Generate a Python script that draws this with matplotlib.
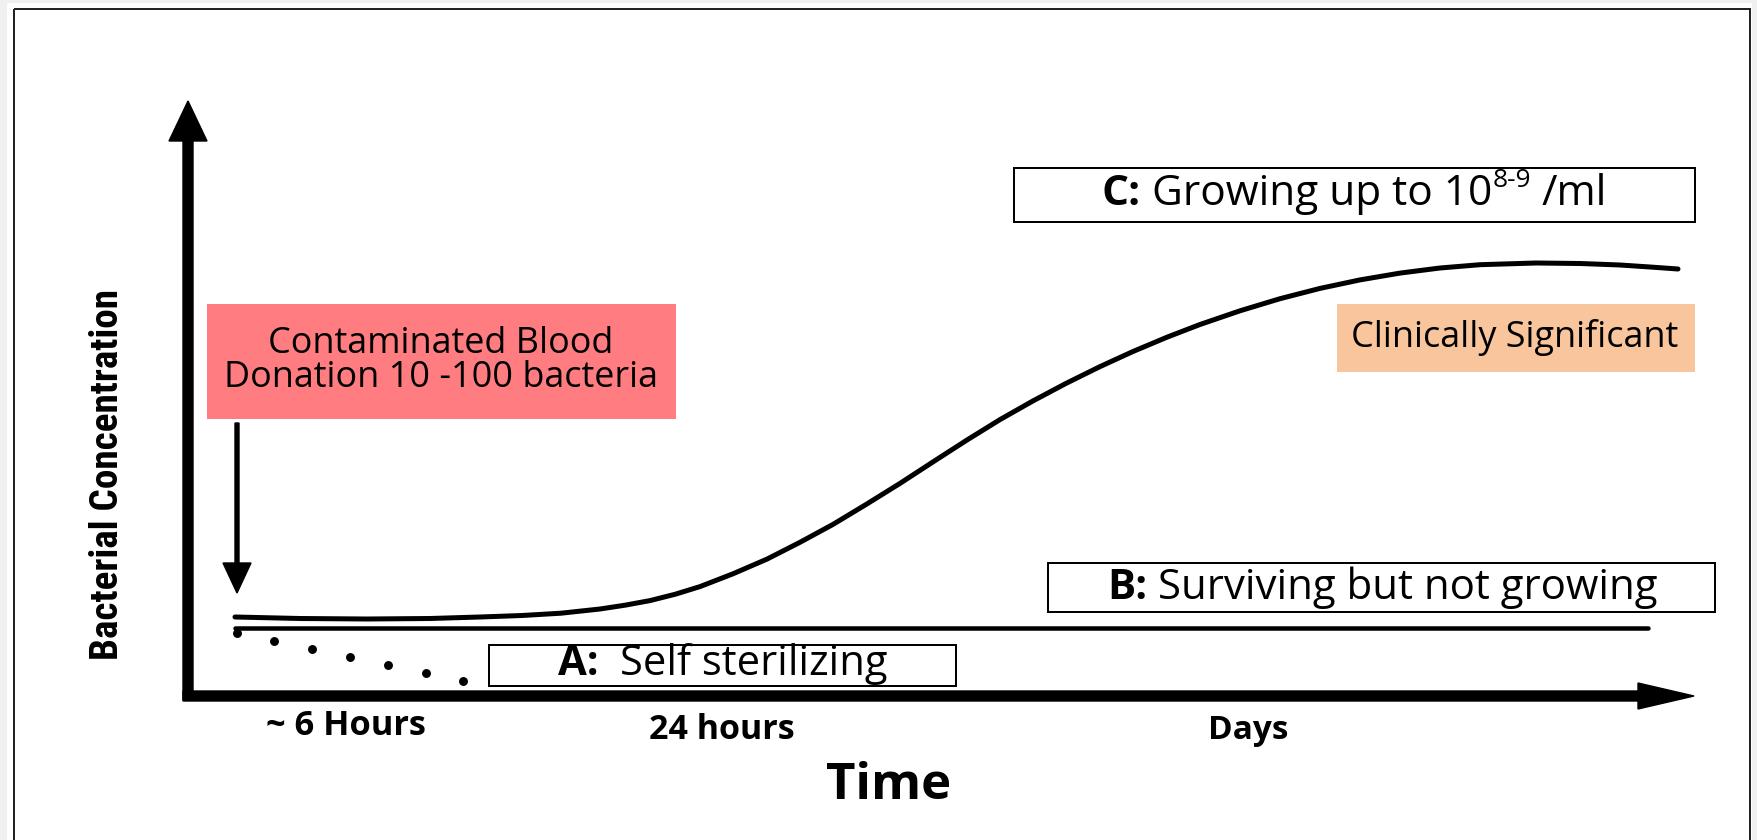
import matplotlib
matplotlib.use("Agg")
import matplotlib.pyplot as plt
from matplotlib import font_manager
from matplotlib.patches import Rectangle, FancyArrow

# the picture is a sketch, so everything lives in image units (x right, y down)
W, H = 1758, 840
PT = 0.72  # pixels -> points at dpi 100

# C: population that keeps growing
grow_x = [235, 300, 367, 430, 480, 522, 561, 600, 625, 650, 675, 700, 733, 767,
          800, 833, 866, 900, 933, 967, 1000, 1033, 1066, 1100, 1133, 1167, 1200,
          1240, 1280, 1320, 1360, 1400, 1440, 1480, 1536, 1580, 1620, 1650, 1678]
grow_y = [617, 618.5, 619, 618.5, 617, 615.5, 613.2, 609, 605.2, 600.6, 594.3,
          586.6, 573.8, 559.1, 542.3, 524.4, 504.5, 483.4, 461.9, 440, 419.6,
          400.9, 383.4, 366.6, 351.5, 337.2, 324.5, 310.8, 298.7, 288.4, 279.9,
          273.1, 268, 264.7, 263, 263.5, 265, 267, 269]

# B: surviving, flat
flat_x = [235, 1648]
flat_y = [627.5, 627.5]

# A: dying off (dotted)
die_x = [237, 274, 312, 350, 388, 426, 463]
die_y = [633, 641, 649, 657, 665, 673, 681]

time_labels = ["~ 6 Hours", "24 hours", "Days"]

font = "Open Sans"


def have(name):
    try:
        font_manager.findfont(font_manager.FontProperties(family=name),
                              fallback_to_default=False)
        return True
    except Exception:
        return False


narrow = "DejaVu Sans"
for cand in ["Liberation Sans Narrow", "Roboto Condensed", "DejaVu Sans Condensed"]:
    if have(cand):
        narrow = cand
        break

fig = plt.figure(figsize=(W / 100, H / 100), dpi=100, facecolor="#f0f0f0")
ax = fig.add_axes([0, 0, 1, 1])
ax.set_xlim(0, W)
ax.set_ylim(H, 0)
ax.axis("off")
fig.canvas.draw()
r = fig.canvas.get_renderer()

# page + thin frame
ax.add_patch(Rectangle((7, 3), 1745, 900, facecolor="white", edgecolor="none", zorder=0))
ax.add_patch(Rectangle((14, 9), 1736, 900, facecolor="none", edgecolor="#222222",
                       lw=2 * PT, zorder=1))

# axes arrows
ax.add_patch(FancyArrow(188, 700, 0, -599, width=10, head_width=38, head_length=40,
                        length_includes_head=True, color="black", zorder=3))
ax.add_patch(FancyArrow(183, 696, 1511, 0, width=10, head_width=26, head_length=56,
                        length_includes_head=True, color="black", zorder=3))
# arrow from the donation box
ax.add_patch(FancyArrow(237, 423, 0, 170, width=4, head_width=28, head_length=30,
                        length_includes_head=True, color="black", zorder=3))

# curves
ax.plot(grow_x, grow_y, color="black", lw=5 * PT, solid_capstyle="round",
        solid_joinstyle="round", zorder=4)
ax.plot(flat_x, flat_y, color="black", lw=4.5 * PT, solid_capstyle="round", zorder=4)
ax.plot(die_x, die_y, "o", color="black", ms=7.5 * PT, zorder=4)

# boxes
ax.add_patch(Rectangle((207, 304), 469, 115, facecolor="#ff7c80", edgecolor="none", zorder=2))
ax.add_patch(Rectangle((1337, 304), 358, 68, facecolor="#f8c59c", edgecolor="none", zorder=2))
for (x0, y0, x1, y1) in [(1014, 168, 1695, 222), (1048, 563, 1715, 612), (489, 645, 956, 686)]:
    ax.add_patch(Rectangle((x0, y0), x1 - x0, y1 - y0, facecolor="white",
                           edgecolor="black", lw=2 * PT, zorder=2))


def fit(t, width, along="w"):
    bb = t.get_window_extent(r)
    cur = bb.width if along == "w" else bb.height
    t.set_fontsize(t.get_fontsize() * width / cur)
    return t


def run(x0, base, parts, width, size=20.0):
    # parts: (text, weight, gap_before_em, superscript)
    arts = []
    for s, wt, gap, sup in parts:
        a = ax.text(0, base, s, fontsize=size * (0.62 if sup else 1), fontweight=wt,
                    family=font, ha="left", va="baseline", zorder=5)
        arts.append(a)

    def layout(sz):
        x = x0
        for a, (s, wt, gap, sup) in zip(arts, parts):
            a.set_fontsize(sz * (0.62 if sup else 1))
            x += gap * sz / PT
            a.set_x(x)
            a.set_y(base - (0.42 * sz / PT if sup else 0))
            x += a.get_window_extent(r).width
        return x - x0

    total = layout(size)
    layout(size * width / total)


# donation box text
t2 = ax.text(441, 387, "Donation 10 -100 bacteria", family=font, ha="center",
             va="baseline", fontsize=20, zorder=5)
fit(t2, 433)
ax.text(441, 353, "Contaminated Blood", family=font, ha="center", va="baseline",
        fontsize=t2.get_fontsize(), zorder=5)

run(1102, 205, [("C:", "bold", 0, False), ("Growing up to 10", "normal", 0.26, False),
                ("8-9", "normal", 0.0, True), ("/ml", "normal", 0.26, False)], 505)
run(1107, 599, [("B:", "bold", 0, False),
                ("Surviving but not growing", "normal", 0.26, False)], 550)
run(558, 675, [("A:", "bold", 0, False),
               ("Self sterilizing", "normal", 0.52, False)], 329)
cs = ax.text(1515, 347, "Clinically Significant", family=font, ha="center",
             va="baseline", fontsize=20, zorder=5)
fit(cs, 328)

# time labels
for lab, cx, base, w in zip(time_labels, [346, 722, 1248], [735, 739, 739], [160, 146, 80]):
    t = ax.text(cx, base, lab, family=font, fontweight="bold", ha="center",
                va="baseline", fontsize=16, zorder=5)
    fit(t, w)

tt = ax.text(889, 799, "Time", family=font, fontweight="bold", ha="center",
             va="baseline", fontsize=28, zorder=5)
fit(tt, 125)

yl = ax.text(108, 474, "Bacterial Concentration", family=narrow, fontweight="bold",
             fontstretch="condensed", rotation=90, ha="center", va="center",
             fontsize=24, zorder=5)
fit(yl, 371, along="h")

fig.savefig("out.png", dpi=100, facecolor=fig.get_facecolor())
